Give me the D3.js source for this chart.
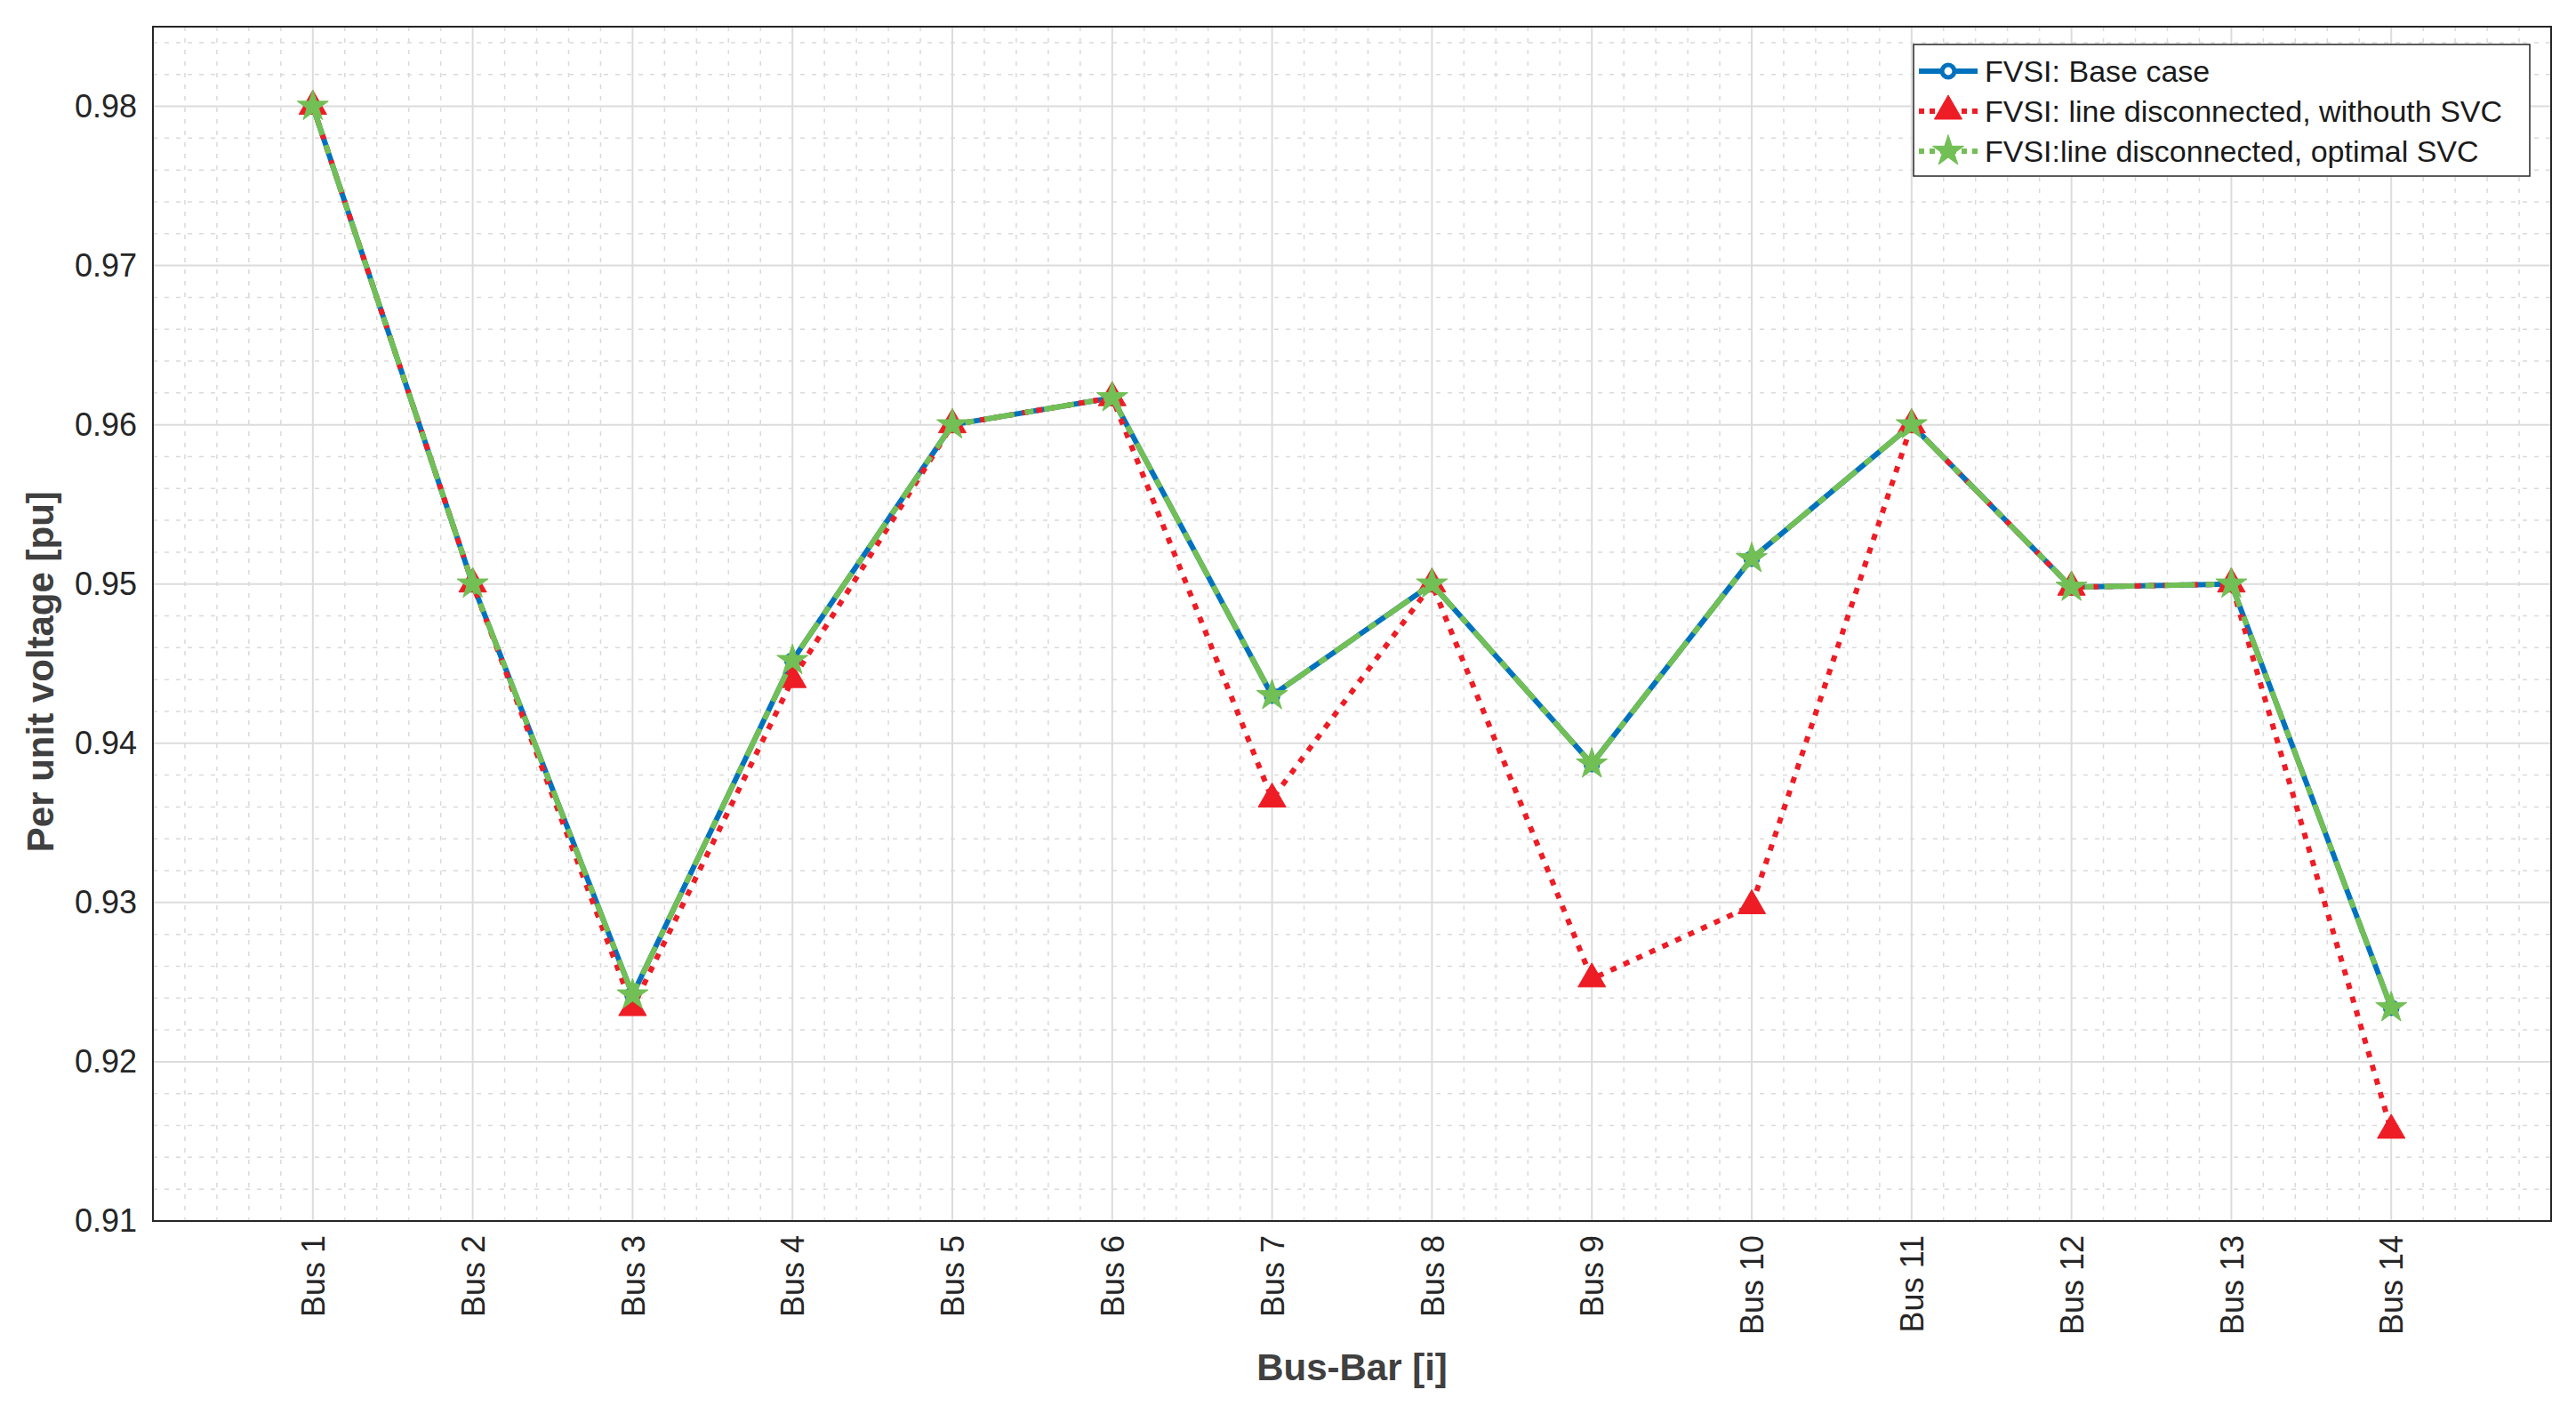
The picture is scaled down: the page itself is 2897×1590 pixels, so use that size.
<!DOCTYPE html>
<html><head><meta charset="utf-8">
<script src="https://cdn.jsdelivr.net/npm/d3@7"></script>
<style>body{margin:0;background:#fff}text{font-family:"Liberation Sans",Arial,sans-serif}</style>
</head><body><div id="chart"></div>
<script>
const buses = ["Bus 1","Bus 2","Bus 3","Bus 4","Bus 5","Bus 6","Bus 7","Bus 8","Bus 9","Bus 10","Bus 11","Bus 12","Bus 13","Bus 14"];
const baseCase = [0.98,0.95,0.9242,0.9452,0.96,0.9617,0.943,0.95,0.9387,0.9516,0.96,0.9498,0.95,0.9234];
const withoutSvc = [0.98,0.95,0.9234,0.944,0.96,0.9617,0.9365,0.95,0.9252,0.9298,0.96,0.9498,0.95,0.9157];
const optimalSvc = [0.98,0.95,0.9242,0.9452,0.96,0.9617,0.943,0.95,0.9387,0.9516,0.96,0.9498,0.95,0.9234];
const yTicks = [0.91,0.92,0.93,0.94,0.95,0.96,0.97,0.98];
const legendLabels = ["FVSI: Base case","FVSI: line disconnected, withouth SVC","FVSI:line disconnected, optimal SVC"];

const width = 2897, height = 1590;
const margin = {top: 30, right: 28, bottom: 217, left: 172};
const iw = width - margin.left - margin.right, ih = height - margin.top - margin.bottom;

const svg = d3.select("#chart").append("svg").attr("width", width).attr("height", height);
const g = svg.append("g").attr("transform", `translate(${margin.left},${margin.top})`);

const x = d3.scaleLinear().domain([0, 15]).range([0, iw]);
const y = d3.scaleLinear().domain([0.91, 0.985]).range([ih, 0]);

// minor grid
const xMinor = d3.range(0, 15.001, 0.2).filter(v => Math.abs(v - Math.round(v)) > 1e-6);
const yMinor = d3.range(0.91, 0.9851, 0.002).filter(v => Math.abs(v*100 - Math.round(v*100)) > 1e-6);
g.selectAll(".xm").data(xMinor).join("line")
  .attr("x1", d => x(d)).attr("x2", d => x(d)).attr("y1", 0).attr("y2", ih)
  .attr("stroke", "#dadada").attr("stroke-width", 1.5).attr("stroke-dasharray", "5,8");
g.selectAll(".ym").data(yMinor).join("line")
  .attr("y1", d => y(d)).attr("y2", d => y(d)).attr("x1", 0).attr("x2", iw)
  .attr("stroke", "#dadada").attr("stroke-width", 1.5).attr("stroke-dasharray", "5,8");
// major grid
g.selectAll(".xg").data(d3.range(1, 15)).join("line")
  .attr("x1", d => x(d)).attr("x2", d => x(d)).attr("y1", 0).attr("y2", ih)
  .attr("stroke", "#dcdcdc").attr("stroke-width", 2);
g.selectAll(".yg").data(yTicks).join("line")
  .attr("y1", d => y(d)).attr("y2", d => y(d)).attr("x1", 0).attr("x2", iw)
  .attr("stroke", "#dcdcdc").attr("stroke-width", 2);

// axes
const yAxis = g.append("g").call(d3.axisLeft(y).tickValues(yTicks).tickFormat(d3.format(".2f")).tickSize(0).tickPadding(18));
yAxis.select(".domain").remove();
yAxis.selectAll("text").attr("font-size", 36).attr("fill", "#262626");

const xAxis = g.append("g").attr("transform", `translate(0,${ih})`)
  .call(d3.axisBottom(x).tickValues(d3.range(1, 15)).tickFormat(d => buses[d - 1]).tickSize(0));
xAxis.select(".domain").remove();
xAxis.selectAll("text").attr("font-size", 36).attr("fill", "#262626")
  .attr("transform", "rotate(-90)").attr("text-anchor", "end").attr("dy", "0.35em").attr("x", -16).attr("y", 0);

g.append("rect").attr("width", iw).attr("height", ih).attr("fill", "none").attr("stroke", "#262626").attr("stroke-width", 2);

svg.append("text").attr("x", margin.left + iw / 2).attr("y", 1552).attr("text-anchor", "middle")
  .attr("font-size", 42).attr("font-weight", "bold").attr("fill", "#404040").text("Bus-Bar [i]");
svg.append("text").attr("transform", `translate(60,${margin.top + y(0.9445)}) rotate(-90)`).attr("text-anchor", "middle")
  .attr("font-size", 42).attr("font-weight", "bold").attr("fill", "#404040").text("Per unit voltage [pu]");

// series
const series = [
  {values: baseCase, color: "#0072BD", dash: null, marker: "circle"},
  {values: withoutSvc, color: "#EE1C25", dash: "7,9", marker: "triangle"},
  {values: optimalSvc, color: "#72BF55", dash: "34,12,10,12", marker: "star"}
];
const line = d3.line().x((d, i) => x(i + 1)).y(d => y(d));
const sym = {circle: d3.symbolCircle, triangle: d3.symbolTriangle, star: d3.symbolStar};
const symSize = {circle: 150, triangle: 420, star: 380};

series.forEach(s => {
  g.append("path").attr("d", line(s.values)).attr("fill", "none")
    .attr("stroke", s.color).attr("stroke-width", 6).attr("stroke-dasharray", s.dash);
  g.selectAll(null).data(s.values).join("path")
    .attr("transform", (d, i) => `translate(${x(i + 1)},${y(d)})`)
    .attr("d", d3.symbol(sym[s.marker], symSize[s.marker]))
    .attr("fill", s.marker === "circle" ? "#fff" : s.color)
    .attr("stroke", s.color).attr("stroke-width", s.marker === "circle" ? 5 : 1);
});

// legend
const lg = svg.append("g").attr("transform", "translate(2152,50)");
lg.append("rect").attr("width", 693).attr("height", 148).attr("fill", "#fff").attr("stroke", "#262626").attr("stroke-width", 1.5);
series.forEach((s, i) => {
  const row = lg.append("g").attr("transform", `translate(0,${30 + i * 45})`);
  row.append("line").attr("x1", 6).attr("x2", 72).attr("stroke", s.color).attr("stroke-width", 6).attr("stroke-dasharray", s.dash ? "6,6" : null);
  row.append("path").attr("transform", "translate(39,0)").attr("d", d3.symbol(sym[s.marker], symSize[s.marker]))
    .attr("fill", s.marker === "circle" ? "#fff" : s.color).attr("stroke", s.color).attr("stroke-width", s.marker === "circle" ? 5 : 1);
  row.append("text").attr("x", 80).attr("dy", "0.35em").attr("font-size", 34).attr("fill", "#1a1a1a").text(legendLabels[i]);
});
</script></body></html>
